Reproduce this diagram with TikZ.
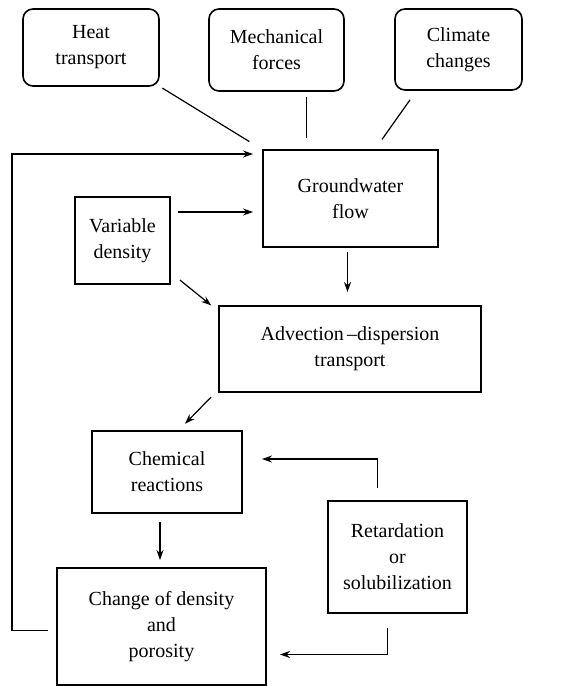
\documentclass[tikz,border=0pt]{standalone}
\usepackage{fontspec}
\setmainfont{Liberation Serif}
\usetikzlibrary{arrows.meta}
\usetikzlibrary{calc}

\tikzset{
  box/.style={draw, line width=0.8pt, inner sep=0pt, outer sep=0pt, align=center, font=\fontsize{10}{13}\selectfont},
  rbox/.style={box, rounded corners=5pt},
  link/.style={line width=0.6pt},
  arr/.style={link, -{Stealth[length=5pt, width=3.5pt]}},
}

\begin{document}
\begin{tikzpicture}[x=0.5pt, y=-0.5pt]
      \useasboundingbox (0,0) rectangle (568,686);
      \node[rbox, minimum width=68pt, minimum height=38.5pt] (heat) at (91,47.5) {Heat\\transport};
      \node[rbox, minimum width=67.5pt, minimum height=41pt] (mech) at (276.5,50) {Mechanical\\forces};
      \node[rbox, minimum width=63.5pt, minimum height=40.5pt] (clim) at (458.5,49.5) {Climate\\changes};
      \node[box, minimum width=87.5pt, minimum height=48.5pt] (gw) at (350.5,198.5) {Groundwater\\flow};
      \node[box, minimum width=47.5pt, minimum height=43.5pt] (var) at (122.5,240.5) {Variable\\density};
      \node[box, minimum width=131pt, minimum height=43pt] (adv) at (350,349) {Advection\,--dispersion\\transport};
      \node[box, minimum width=75pt, minimum height=41pt] (chem) at (167,472) {Chemical\\reactions};
      \node[box, minimum width=69.5pt, minimum height=56pt] (ret) at (397.5,557) {Retardation\\or\\solubilization};
      \node[box, minimum width=104.5pt, minimum height=58.5pt] (change) at (161.5,626.5) {Change of density\\and\\porosity};
      \coordinate (fb) at (12,400);

      \draw[link, shorten <=2pt, shorten >=8pt] (heat.south east) -- (gw.north west);
      \draw[link, shorten <=3pt, shorten >=6pt] ([xshift=15pt]mech.south) -- ([xshift=15pt]mech.south |- gw.north);
      \draw[link, shorten <=6pt, shorten >=6.5pt] ([xshift=11pt]clim.south west) -- ([xshift=12pt]gw.north);
      \draw[arr, shorten <=4.5pt, shorten >=5pt] ([yshift=-2pt]change.west) -- ([yshift=-2pt]change.west -| fb) |- ([yshift=-2pt]gw.north west);
      \draw[arr, shorten <=4pt, shorten >=5pt] ([yshift=-7.5pt]var.north east) -- ([yshift=-7.5pt]var.north east -| gw.west);
      \draw[arr, shorten <=6.4pt, shorten >=0.5pt] ([yshift=6pt]var.south east) -- ([xshift=-3.5pt]adv.north west);
      \draw[arr, shorten <=2.5pt, shorten >=7pt] ([xshift=-1.5pt]gw.south) -- ([xshift=-1.5pt]gw.south |- adv.north);
      \draw[arr, shorten <=3.5pt, shorten >=5pt] ([xshift=-1.5pt]adv.south west) -- ([xshift=5.5pt]chem.north);
      \draw[arr, shorten <=4.5pt, shorten >=4pt] ([xshift=-3.5pt]chem.south) -- ([xshift=-3.5pt]chem.south |- change.north);
      \draw[arr, shorten <=6.5pt, shorten >=10pt] ([xshift=-10pt]ret.north) |- ([yshift=6.5pt]chem.east);
      \draw[arr, shorten <=7.5pt, shorten >=7pt] ([xshift=-5pt]ret.south) |- ([yshift=-14pt]change.east);
\end{tikzpicture}
\end{document}
